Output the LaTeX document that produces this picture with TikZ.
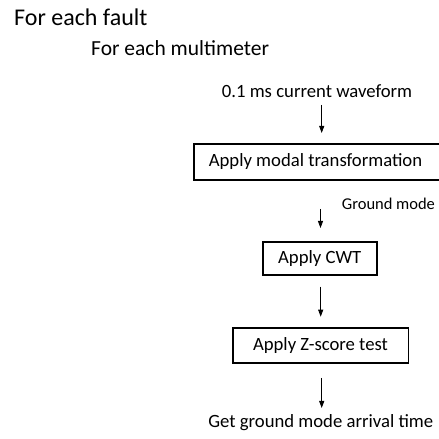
\documentclass[tikz,border=0pt]{standalone}
\usepackage{fontspec}
\setmainfont{Carlito}
\usetikzlibrary{arrows.meta}
\tikzset{
  txt/.style={inner sep=0pt, anchor=base west},
  body/.style={font=\fontsize{18.7}{22}\selectfont},
  procbox/.style={draw, line width=1.6pt, inner sep=0pt},
  flow/.style={line width=0.8pt, -{Triangle[length=7pt,width=5pt]}},
}
\begin{document}
\begin{tikzpicture}[x=1pt,y=1pt]
\fill[white] (0,0) rectangle (439,439);
\useasboundingbox (0,0) rectangle (439,439);
\clip (0,0) rectangle (439,439);
\node[txt, font=\fontsize{24}{28}\selectfont] (fault) at (14,413.3) {For each fault};
\node[txt, font=\fontsize{21.5}{25}\selectfont] (meter) at (91,383.3) {For each multimeter};
\node[txt, body] (wave) at (221.7,341) {0.1 ms current waveform};
\node[procbox, minimum width=251, minimum height=36] (modal) at (319.5,277) {};
\node[body, inner sep=0pt] (modaltxt) at (315.5,277) {Apply modal transformation};
\node[txt, font=\fontsize{16.5}{19}\selectfont] (ground) at (341.7,229) {Ground mode};
\node[procbox, body, minimum width=114, minimum height=33.5] (cwt) at (319.7,180.5) {Apply CWT};
\node[procbox, body, minimum width=175.6, minimum height=35] (z) at (320.5,93.2) {Apply Z-score test};
\node[body, inner sep=0pt] (arr) at (320.8,16) {Get ground mode arrival time};
\coordinate (a1s) at (321.7,334);
\coordinate (a1e) at (321.7,306);
\coordinate (a2s) at (320.5,230);
\coordinate (a2e) at (320.5,211);
\coordinate (a3s) at (320.7,152.3);
\coordinate (a3e) at (320.7,122.3);
\coordinate (a4s) at (321.7,61);
\coordinate (a4e) at (321.7,31);
\draw[flow] (a1s) -- (a1e);
\draw[flow] (a2s) -- (a2e);
\draw[flow] (a3s) -- (a3e);
\draw[flow] (a4s) -- (a4e);
\end{tikzpicture}
\end{document}
